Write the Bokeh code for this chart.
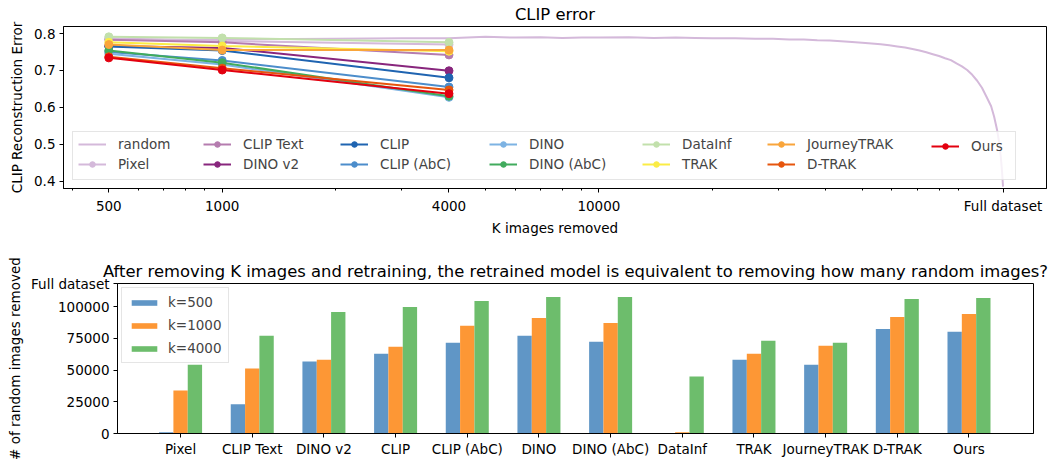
from bokeh.plotting import figure
from bokeh.models import (ColumnDataSource, FixedTicker, Legend, LegendItem, Range1d)
from bokeh.transform import dodge
from bokeh.embed import file_html
from bokeh.resources import INLINE

FONT = "DejaVu Sans"
FULL = 118287  # "Full dataset"

# ---------------- top chart data ----------------
k_removed = [500, 1000, 4000]
x_tick_values = [500, 1000, 4000, 10000, FULL]
x_tick_labels = ["500", "1000", "4000", "10000", "Full dataset"]

random_k = [500, 1000, 2000, 3000, 4000, 5000, 6000, 7000, 8000, 9000, 10000, 12000,
            14000, 16000, 18000, 20000, 23000, 26000, 29000, 32000, 35000, 38000,
            41000, 44000, 47000, 50000, 53000, 56000, 59000, 62000, 65000, 68000,
            71000, 74000, 77000, 80000, 83000, 86000, 89000, 92000, 95000, 98000,
            101000, 104000, 107000, 110000, 112000, 114000, 115500, 116700, 117600, FULL]
random_err = [0.783, 0.784, 0.786, 0.787, 0.787, 0.791, 0.789, 0.790, 0.788, 0.789, 0.789, 0.790,
              0.788, 0.789, 0.788, 0.787, 0.787, 0.786, 0.786, 0.784, 0.784, 0.782,
              0.781, 0.779, 0.777, 0.775, 0.773, 0.771, 0.768, 0.765, 0.762, 0.758,
              0.754, 0.749, 0.744, 0.739, 0.733, 0.728, 0.719, 0.711, 0.701, 0.688,
              0.672, 0.653, 0.628, 0.603, 0.575, 0.540, 0.505, 0.465, 0.425, 0.385]

err_pixel = [0.787, 0.780, 0.770]
err_clip_text = [0.783, 0.776, 0.742]
err_dino_v2 = [0.766, 0.761, 0.699]
err_clip = [0.765, 0.754, 0.680]
err_clip_abc = [0.750, 0.727, 0.655]
err_dino = [0.745, 0.716, 0.627]
err_dino_abc = [0.754, 0.721, 0.630]
err_datainf = [0.791, 0.788, 0.776]
err_trak = [0.776, 0.766, 0.752]
err_journeytrak = [0.770, 0.755, 0.755]
err_dtrak = [0.737, 0.706, 0.647]
err_ours = [0.734, 0.701, 0.637]

method_names = ["Pixel", "CLIP Text", "DINO v2", "CLIP", "CLIP (AbC)", "DINO",
                "DINO (AbC)", "DataInf", "TRAK", "JourneyTRAK", "D-TRAK", "Ours"]
method_errs = [err_pixel, err_clip_text, err_dino_v2, err_clip, err_clip_abc, err_dino,
               err_dino_abc, err_datainf, err_trak, err_journeytrak, err_dtrak, err_ours]
method_colors = ["#d4b9da", "#b57caf", "#88267d", "#1f64b1", "#4c8dcb", "#7db3e3",
                 "#41ab5d", "#c2e0ac", "#fbec45", "#f9a53b", "#e6550d", "#e3000f"]
random_color = "#d4b9da"

# legend columns (2 rows, filled column-wise) and their x offsets in px from the frame
legend_columns = [["random", "Pixel"], ["CLIP Text", "DINO v2"], ["CLIP", "CLIP (AbC)"],
                  ["DINO", "DINO (AbC)"], ["DataInf", "TRAK"], ["JourneyTRAK", "D-TRAK"], ["Ours"]]
legend_col_x = [15, 140, 277, 426, 579, 704, 868]

# ---------------- bottom chart data ----------------
bar_methods = method_names
equiv_k500 = [1000, 23000, 56700, 62900, 71500, 77000, 72300, 0, 58200, 54300, 82500, 80200]
equiv_k1000 = [33900, 51200, 58200, 68400, 84900, 91100, 87200, 1000, 62900, 69200, 91900, 94300]
equiv_k4000 = [54300, 77000, 95800, 99700, 104400, 107600, 107600, 44900, 73100, 71500, 106000, 106800]
bar_labels = ["k=500", "k=1000", "k=4000"]
bar_colors = ["#6096c6", "#fd9735", "#6dbd6c"]
y_tick_values = [0, 25000, 50000, 75000, 100000, FULL]
y_tick_labels = ["0", "25000", "50000", "75000", "100000", "Full dataset"]


def style_axes(p):
    p.outline_line_color = "black"
    p.outline_line_width = 1
    p.xgrid.visible = False
    p.ygrid.visible = False
    for ax in p.axis:
        ax.axis_line_color = "black"
        ax.major_tick_line_color = "black"
        ax.minor_tick_line_color = "black"
        ax.major_tick_in = 0
        ax.major_tick_out = 4
        ax.minor_tick_in = 0
        ax.minor_tick_out = 2
        ax.major_label_text_font = FONT
        ax.major_label_text_font_size = "13.5px"
        ax.major_label_text_color = "black"
        ax.axis_label_text_font = FONT
        ax.axis_label_text_font_size = "13.5px"
        ax.axis_label_text_font_style = "normal"
        ax.axis_label_text_color = "black"
    p.title.text_font = FONT
    p.title.text_font_size = "16.4px"
    p.title.text_font_style = "normal"
    p.title.align = "center"
    p.title.text_color = "black"


# ---------------- top figure ----------------
p1 = figure(width=1049, height=250, x_axis_type="log",
            x_range=Range1d(379, 154300), y_range=Range1d(0.380, 0.819),
            output_backend="svg", toolbar_location=None, title="CLIP error",
            min_border_left=63, min_border_right=3, min_border_top=26, min_border_bottom=62)
style_axes(p1)
p1.title.standoff = 5
p1.xaxis.axis_label = "K images removed"
p1.yaxis.axis_label = "CLIP Reconstruction Error"
p1.xaxis.ticker = FixedTicker(
    ticks=x_tick_values,
    minor_ticks=[m * d for d in (100, 1000, 10000) for m in range(2, 10)
                 if 379 < m * d < 154300 and m * d not in x_tick_values])
p1.xaxis.major_label_overrides = dict(zip(x_tick_values, x_tick_labels))
p1.yaxis.ticker = FixedTicker(ticks=[0.4, 0.5, 0.6, 0.7, 0.8], minor_ticks=[])
p1.xaxis.major_label_standoff = 5
p1.xaxis.axis_label_standoff = 3
p1.yaxis.major_label_standoff = 4
p1.yaxis.axis_label_standoff = 6

item_by_label = {}
r_rand = p1.line(random_k, random_err, line_color=random_color, line_width=2)
item_by_label["random"] = LegendItem(label="random", renderers=[r_rand])
for name, errs, col in zip(method_names, method_errs, method_colors):
    src = ColumnDataSource(dict(k=k_removed, err=errs))
    rl = p1.line("k", "err", source=src, line_color=col, line_width=2)
    rs = p1.scatter("k", "err", source=src, size=8, fill_color=col, line_color=col)
    item_by_label[name] = LegendItem(label=name, renderers=[rl, rs])

# legend frame (box only)
dummy = p1.scatter(x=[], y=[], fill_alpha=0, line_alpha=0)
box = Legend(items=[LegendItem(label=" ", renderers=[dummy])], location=(9, 8),
             padding=0, margin=0, spacing=0, glyph_width=1, glyph_height=47,
             label_standoff=0, label_width=941, label_height=47,
             label_text_font_size="1px",
             border_line_color="#cccccc", background_fill_color="white",
             background_fill_alpha=0.8)
p1.add_layout(box)
for labels, x0 in zip(legend_columns, legend_col_x):
    its = [item_by_label[l] for l in labels]
    y0 = 16 if len(its) == 2 else 34
    leg = Legend(items=its, location=(x0, y0), orientation="vertical",
                 padding=0, margin=0, spacing=4, glyph_width=28, glyph_height=14,
                 label_standoff=12, label_height=14,
                 label_text_font=FONT, label_text_font_size="13.5px",
                 border_line_color=None, background_fill_alpha=0)
    p1.add_layout(leg)

# ---------------- bottom figure ----------------
idx = list(range(len(bar_methods)))
src2 = ColumnDataSource(dict(idx=idx, k500=equiv_k500, k1000=equiv_k1000, k4000=equiv_k4000))
p2 = figure(width=1049, height=212, x_range=Range1d(-0.88, 11.9), y_range=Range1d(0, FULL),
            output_backend="svg", toolbar_location=None,
            title="After removing K images and retraining, the retrained model is equivalent to removing how many random images?",
            min_border_left=117, min_border_right=16, min_border_top=33, min_border_bottom=29)
style_axes(p2)
p2.title.standoff = 5
p2.yaxis.axis_label = "# of random images removed"
p2.xaxis.ticker = FixedTicker(ticks=idx, minor_ticks=[])
p2.xaxis.major_label_overrides = dict(zip(idx, bar_methods))
p2.yaxis.ticker = FixedTicker(ticks=y_tick_values, minor_ticks=[])
p2.yaxis.major_label_overrides = dict(zip(y_tick_values, y_tick_labels))
p2.xaxis.major_label_standoff = 3
p2.yaxis.major_label_standoff = 4

bar_items = []
for field, off, col, lab in zip(["k500", "k1000", "k4000"], [-0.2, 0.0, 0.2], bar_colors, bar_labels):
    r = p2.vbar(x=dodge("idx", off), top=field, width=0.2, source=src2,
                fill_color=col, line_color=None)
    bar_items.append(LegendItem(label=lab, renderers=[r]))
leg2 = Legend(items=bar_items, location="top_left", margin=4, padding=6, spacing=7,
              glyph_width=32, glyph_height=7, label_standoff=8, label_height=14,
              label_text_font=FONT, label_text_font_size="13.5px",
              border_line_color="#cccccc", background_fill_alpha=0.8)
p2.add_layout(leg2)

open("out.html", "w").write(file_html([p1, p2], INLINE))
